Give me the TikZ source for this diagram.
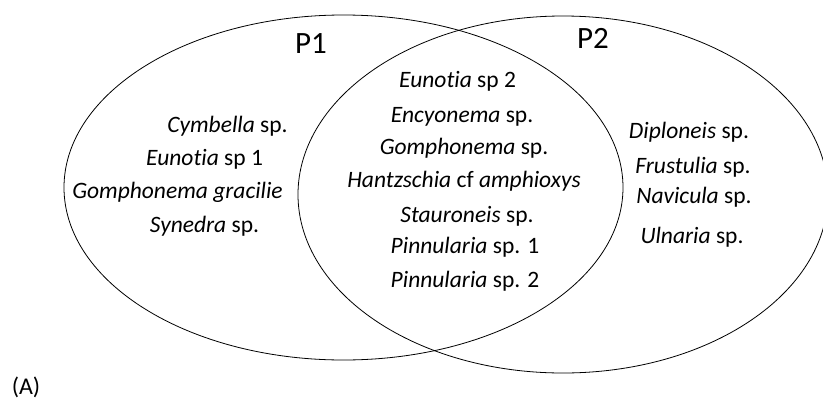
\documentclass[tikz,border=0pt]{standalone}
\usepackage{fontspec}
\setmainfont[Ligatures={NoCommon}]{Carlito}
\usetikzlibrary{shapes.geometric}

\begin{document}
\begin{tikzpicture}[
    x=1pt, y=-1pt,
    ring/.style={draw, ellipse, inner sep=0pt, line width=0.8pt},
    taxon/.style={anchor=base, inner sep=0pt, font=\fontsize{23.5}{28}\selectfont},
    setlabel/.style={anchor=base, inner sep=0pt, font=\fontsize{31}{37}\selectfont}
]
\useasboundingbox[fill=white] (0,0) rectangle (823,402);
\node[ring, minimum width=559pt, minimum height=345pt] (p1) at (343.5,187.5) {};
\node[ring, minimum width=530pt, minimum height=357pt] (p2) at (563,194.5) {};
\node[setlabel] (p1lab) at (311,53) {P1};
\node[setlabel] (p2lab) at (593,48) {P2};
% P1 only
\node[taxon] (cym) at (227.5,132) {\textit{Cymbella} sp.};
\node[taxon] (eun1) at (204.5,165) {\textit{Eunotia} sp 1};
\node[taxon] (gomg) at (177.5,198) {\textit{Gomphonema gracilie}};
\node[taxon] (syn) at (204.5,232) {\textit{Synedra} sp.};
% shared
\node[taxon] (eun2) at (457.5,87) {\textit{Eunotia} sp 2};
\node[taxon] (enc) at (462,122) {\textit{Encyonema} sp.};
\node[taxon] (gom) at (464,154) {\textit{Gomphonema} sp.};
\node[taxon] (han) at (464,187) {\textit{Hantzschia} cf \textit{amphioxys}};
\node[taxon] (sta) at (467,222) {\textit{Stauroneis} sp.};
\node[taxon] (pin1) at (465,253) {\textit{Pinnularia} sp. 1};
\node[taxon] (pin2) at (465,287) {\textit{Pinnularia} sp. 2};
% P2 only
\node[taxon] (dip) at (689,138) {\textit{Diploneis} sp.};
\node[taxon] (fru) at (693,173) {\textit{Frustulia} sp.};
\node[taxon] (nav) at (694,203) {\textit{Navicula} sp.};
\node[taxon] (uln) at (692,243) {\textit{Ulnaria} sp.};
\node[setlabel, font=\fontsize{24}{29}\selectfont] (panel) at (26,394) {(A)};
\end{tikzpicture}
\end{document}
